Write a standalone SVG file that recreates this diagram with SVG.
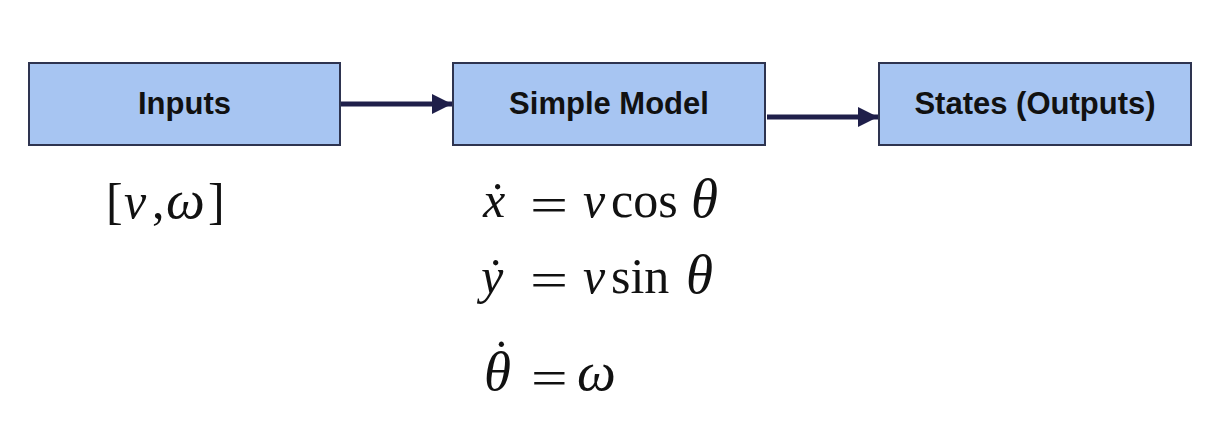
<svg xmlns="http://www.w3.org/2000/svg" width="1227" height="443" viewBox="0 0 1227 443">
<defs>
<style>
.box{fill:#a7c5f2;stroke:#2e3450;stroke-width:2}
.lbl{font-family:"Liberation Sans",Arial,sans-serif;font-weight:bold;font-size:31px;fill:#111;text-anchor:middle}
.math{font-family:"Liberation Serif","Times New Roman",serif;font-size:50px;fill:#111}
.it{font-style:italic}
.big{font-size:55px}
.conn{stroke:#1f1f4a;stroke-width:5;fill:none}
</style>
<marker id="ah" markerUnits="userSpaceOnUse" markerWidth="22" markerHeight="22" refX="20" refY="10" orient="auto">
<path d="M0,0 L20,10 L0,20 Z" fill="#1f1f4a"/>
</marker>
</defs>
<rect width="1227" height="443" fill="#ffffff"/>
<g id="inputs">
<rect class="box" x="29" y="63" width="311" height="82"/>
<text class="lbl" x="184.5" y="114">Inputs</text>
</g>
<g id="model">
<rect class="box" x="453" y="63" width="312" height="82"/>
<text class="lbl" x="609" y="114">Simple Model</text>
</g>
<g id="states">
<rect class="box" x="879" y="63" width="312" height="82"/>
<text class="lbl" x="1035" y="114">States (Outputs)</text>
</g>
<g id="connectors">
<line class="conn" x1="341" y1="104" x2="452" y2="104" marker-end="url(#ah)"/>
<line class="conn" x1="767" y1="117" x2="878" y2="117" marker-end="url(#ah)"/>
</g>
<g id="math">
<text class="math" y="218"><tspan x="106">[</tspan><tspan class="it" x="124">v</tspan><tspan x="152">,</tspan><tspan class="it big" x="166">ω</tspan><tspan x="208">]</tspan></text>
<text class="math" y="217"><tspan class="it" x="483">ẋ</tspan><tspan class="it" x="583">v</tspan><tspan x="611">cos</tspan><tspan class="it big" x="691">θ</tspan></text>
<text class="math" transform="translate(530,222) scale(1.35,1)">=</text>
<text class="math" y="293"><tspan class="it" x="481">ẏ</tspan><tspan class="it" x="583">v</tspan><tspan x="611">sin</tspan><tspan class="it big" x="686">θ</tspan></text>
<text class="math" transform="translate(530,297) scale(1.35,1)">=</text>
<text class="math" y="390"><tspan class="it big" x="484">θ</tspan><tspan x="493" dy="-15">˙</tspan><tspan class="it big" x="577" dy="15">ω</tspan></text>
<text class="math" transform="translate(531,395) scale(1.3,1)">=</text>
</g>
</svg>
